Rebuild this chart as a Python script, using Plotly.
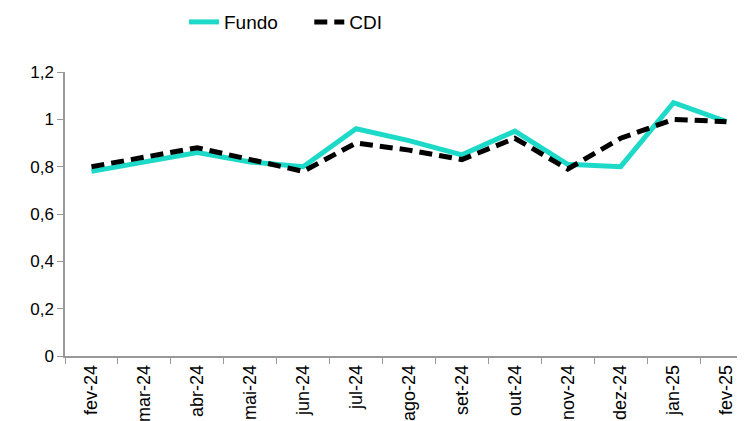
import plotly.graph_objects as go

meses = ['fev-24', 'mar-24', 'abr-24', 'mai-24', 'jun-24', 'jul-24', 'ago-24',
         'set-24', 'out-24', 'nov-24', 'dez-24', 'jan-25', 'fev-25']
fundo = [0.78, 0.82, 0.86, 0.82, 0.80, 0.96, 0.91, 0.85, 0.95, 0.81, 0.80, 1.07, 0.99]
cdi = [0.80, 0.84, 0.88, 0.83, 0.78, 0.90, 0.87, 0.83, 0.92, 0.79, 0.92, 1.00, 0.99]
y_ticks = [0, 0.2, 0.4, 0.6, 0.8, 1.0, 1.2]

fig = go.Figure()
fig.add_trace(go.Scatter(x=meses, y=fundo, mode='lines', name='Fundo     ',
                         line=dict(color='rgb(29,217,199)', width=5)))
fig.add_trace(go.Scatter(x=meses, y=cdi, mode='lines', name='CDI',
                         line=dict(color='black', width=5, dash='13px,7px')))

# the page body has an 8px margin, so the figure is sized to fit the window
fig.update_layout(
    width=737, height=413,
    margin=dict(l=57, r=0, t=64, b=65),
    paper_bgcolor='white', plot_bgcolor='white',
    font=dict(family='Liberation Sans, Arial, sans-serif', size=17, color='black'),
    separators=',.',
    showlegend=True,
    legend=dict(orientation='h', x=0.325, xanchor='center',
                yref='container', y=0.966, yanchor='middle',
                font=dict(family='Liberation Sans Narrow, Liberation Sans, Arial', size=19)),
    xaxis=dict(
        type='category', range=[-0.5, 12.35], automargin=False,
        tickson='boundaries', ticks='outside', ticklen=6, tickcolor='#999',
        showline=True, linecolor='#999', linewidth=1.5,
        tickangle=-90, showgrid=False, tickfont=dict(size=18),
    ),
    yaxis=dict(
        range=[0, 1.2], tickvals=y_ticks, automargin=False,
        ticks='outside', ticklen=6, tickcolor='#999',
        showline=True, linecolor='#999', linewidth=1.5, showgrid=False, zeroline=False,
        tickfont=dict(size=17),
    ),
)

fig.write_html("out.html")
